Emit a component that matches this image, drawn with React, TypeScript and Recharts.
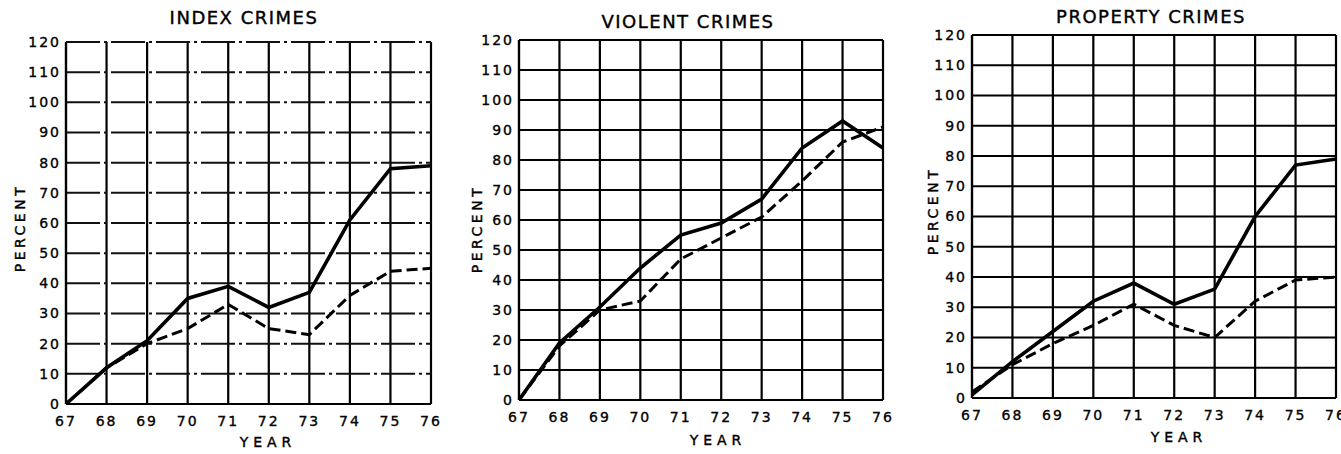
import React from "react";
import { LineChart, Line, XAxis, YAxis, CartesianGrid } from "recharts";

const years = [67, 68, 69, 70, 71, 72, 73, 74, 75, 76];
const yTicks = [0, 10, 20, 30, 40, 50, 60, 70, 80, 90, 100, 110, 120];

const indexSolid = [0, 12, 21, 35, 39, 32, 37, 61, 78, 79];
const indexDashed = [0, 12, 20, 25, 33, 25, 23, 36, 44, 45];
const violentSolid = [0, 19, 31, 44, 55, 59, 67, 84, 93, 84];
const violentDashed = [0, 18, 30, 33, 47, 54, 61, 73, 86, 91];
const propertySolid = [1, 12, 22, 32, 38, 31, 36, 60, 77, 79];
const propertyDashed = [2, 11, 18, 24, 31, 24, 20, 32, 39, 40];

const FONT = "'DejaVu Sans', sans-serif";

type PanelProps = {
  left: number;
  width: number;
  margin: { top: number; right: number; bottom: number; left: number };
  solid: number[];
  dashed: number[];
  title: string;
  titleX: number;
  titleY: number;
  percentX: number;
  percentY: number;
  yearX: number;
  yearY: number;
  dashedGrid?: boolean;
};

function Panel(p: PanelProps) {
  const data = years.map((y, i) => ({ year: y, solid: p.solid[i], dashed: p.dashed[i] }));
  const tickStyle = {
    fill: "#000",
    stroke: "#000",
    strokeWidth: 0.35,
    fontSize: 14,
    fontFamily: FONT,
    letterSpacing: 2,
  };
  const htmlText = {
    fontFamily: FONT,
    color: "#000",
    WebkitTextStroke: "0.4px #000",
  } as React.CSSProperties;
  return (
    <div style={{ position: "absolute", left: p.left, top: 0, width: p.width, height: 454 }}>
      <LineChart width={p.width} height={454} data={data} margin={p.margin}>
        {p.dashedGrid ? (
          <>
            <CartesianGrid horizontal={false} vertical={true} stroke="#000" strokeWidth={2.2} />
            <CartesianGrid
              horizontal={true}
              vertical={false}
              stroke="#111"
              strokeWidth={2}
              strokeDasharray="34 4 3 4"
            />
          </>
        ) : (
          <CartesianGrid stroke="#000" strokeWidth={2.2} />
        )}
        <XAxis
          dataKey="year"
          type="number"
          domain={[67, 76]}
          ticks={years}
          interval={0}
          height={30}
          tickSize={0}
          tickMargin={12}
          tick={tickStyle}
          axisLine={{ stroke: "#000", strokeWidth: 2.2 }}
          tickLine={false}
        />
        <YAxis
          type="number"
          domain={[0, 120]}
          ticks={yTicks}
          interval={0}
          width={50}
          tickSize={0}
          tickMargin={5}
          tick={tickStyle}
          axisLine={{ stroke: "#000", strokeWidth: 2.2 }}
          tickLine={false}
        />
        <Line
          type="linear"
          dataKey="dashed"
          stroke="#000"
          strokeWidth={3}
          strokeDasharray="11 5"
          dot={false}
          isAnimationActive={false}
        />
        <Line
          type="linear"
          dataKey="solid"
          stroke="#000"
          strokeWidth={3.6}
          dot={false}
          isAnimationActive={false}
        />
      </LineChart>
      <div
        style={{
          ...htmlText,
          position: "absolute",
          left: p.titleX - 150,
          width: 300,
          top: p.titleY - 11,
          textAlign: "center",
          fontSize: 18,
          letterSpacing: 1.5,
          lineHeight: "22px",
        }}
      >
        {p.title}
      </div>
      <div
        style={{
          ...htmlText,
          position: "absolute",
          left: p.percentX - 60,
          top: p.percentY - 9,
          width: 120,
          height: 18,
          lineHeight: "18px",
          textAlign: "center",
          transform: "rotate(-90deg)",
          fontSize: 14,
          letterSpacing: 3.5,
        }}
      >
        PERCENT
      </div>
      <div
        style={{
          ...htmlText,
          position: "absolute",
          left: p.yearX - 60,
          top: p.yearY - 9,
          width: 120,
          height: 18,
          lineHeight: "18px",
          textAlign: "center",
          fontSize: 14,
          letterSpacing: 5,
        }}
      >
        YEAR
      </div>
    </div>
  );
}

export default function App() {
  return (
    <div
      style={{
        position: "absolute",
        left: 0,
        top: 0,
        width: 1341,
        height: 454,
        background: "#fff",
        overflow: "hidden",
      }}
    >
      <Panel
        left={0}
        width={450}
        margin={{ top: 42, right: 19, bottom: 20, left: 16 }}
        solid={indexSolid}
        dashed={indexDashed}
        title="INDEX CRIMES"
        titleX={244}
        titleY={18}
        percentX={20}
        percentY={228}
        yearX={268}
        yearY={442}
        dashedGrid
      />
      <Panel
        left={445}
        width={450}
        margin={{ top: 40, right: 12, bottom: 24, left: 24 }}
        solid={violentSolid}
        dashed={violentDashed}
        title="VIOLENT CRIMES"
        titleX={243}
        titleY={22}
        percentX={32}
        percentY={229}
        yearX={273}
        yearY={440}
      />
      <Panel
        left={890}
        width={451}
        margin={{ top: 35, right: 5, bottom: 26, left: 32 }}
        solid={propertySolid}
        dashed={propertyDashed}
        title="PROPERTY CRIMES"
        titleX={261}
        titleY={17}
        percentX={43}
        percentY={211}
        yearX={289}
        yearY={437}
      />
    </div>
  );
}
